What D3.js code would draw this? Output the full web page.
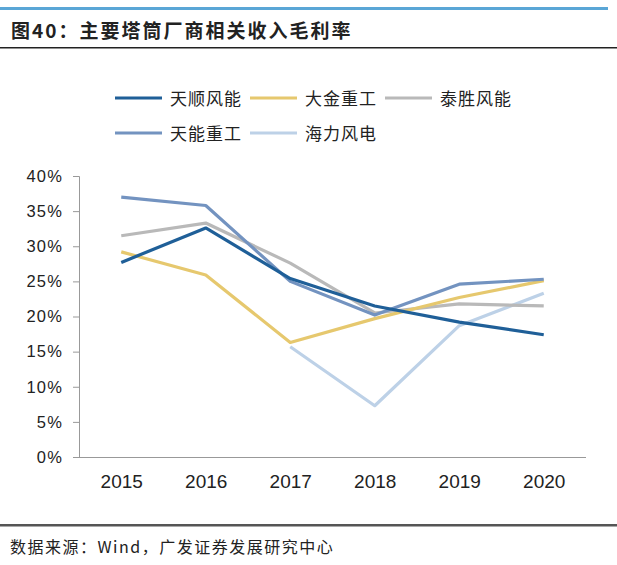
<!DOCTYPE html>
<html><head><meta charset="utf-8">
<script src="https://cdn.jsdelivr.net/npm/d3@7"></script>
<style>body{margin:0;background:#fff}svg{display:block}</style>
</head><body>
<svg id="c" width="617" height="565"></svg>
<script>
const years = ["2015","2016","2017","2018","2019","2020"];
const seriesNames = ["天顺风能","大金重工","泰胜风能","天能重工","海力风电"];
const tianshun = [27.7, 32.6, 25.4, 21.5, 19.2, 17.4];
const dajin    = [29.2, 25.9, 16.3, 19.7, 22.7, 25.1];
const taisheng = [31.5, 33.3, 27.6, 20.5, 21.8, 21.5];
const tianneng = [37.0, 35.8, 25.0, 20.2, 24.6, 25.3];
const haili    = [null, null, 15.7, 7.3, 18.7, 23.3];
const yTicks = [0,5,10,15,20,25,30,35,40];
const colors = ["#1f5f98","#e6c86e","#b9b9b9","#7393c0","#bdd1e7"];

const data = [tianshun, dajin, taisheng, tianneng, haili];
const svg = d3.select("#c");
const font = "'Liberation Sans', Arial, 'Noto Sans CJK SC', sans-serif";
const cjk = "'Noto Sans CJK SC', sans-serif";

// header decorations
svg.append("rect").attr("x",0).attr("y",7).attr("width",608).attr("height",3).attr("fill","#5aa6d6");
svg.append("text").attr("x",11).attr("y",38).attr("font-family",cjk).attr("font-weight","bold")
  .attr("font-size",19).attr("letter-spacing",2).attr("fill","#222").text("图40：主要塔筒厂商相关收入毛利率");
svg.append("rect").attr("x",0).attr("y",47).attr("width",617).attr("height",1.5).attr("fill","#222");
svg.append("rect").attr("x",0).attr("y",524).attr("width",617).attr("height",2.5).attr("fill","#555");
svg.append("text").attr("x",10).attr("y",553).attr("font-family",cjk)
  .attr("font-size",16).attr("letter-spacing",1.5).attr("fill","#222").text("数据来源：Wind，广发证券发展研究中心");

const x = d3.scalePoint().domain(years).range([79,586]).padding(0.5);
const y = d3.scaleLinear().domain([0,40]).range([457,176]);

// y axis
const ya = svg.append("g").attr("transform","translate(79,0)")
  .call(d3.axisLeft(y).tickValues(yTicks).tickFormat(d=>d+"%").tickSize(6).tickPadding(10));
ya.selectAll("path,line").attr("stroke","#999");
ya.selectAll("text").attr("font-family",font).attr("font-size",16.5).attr("letter-spacing",1.2).attr("fill","#222");

// x axis
const xa = svg.append("g").attr("transform","translate(0,457)")
  .call(d3.axisBottom(x).tickSize(0).tickPadding(17.5));
xa.select("path").attr("d","M79,0.5H586").attr("stroke","#999");
xa.selectAll("text").attr("font-family",font).attr("font-size",19).attr("fill","#222");

// lines
const line = d3.line().defined(d=>d.v!=null).x(d=>x(d.k)).y(d=>y(d.v));
const order = [4,2,1,3,0];
order.forEach(i=>{
  svg.append("path")
    .datum(years.map((k,j)=>({k, v:data[i][j]})))
    .attr("d",line).attr("fill","none").attr("stroke",colors[i])
    .attr("stroke-width",3.2).attr("stroke-linejoin","round");
});

// legend
const legPos = [[115,98],[250,98],[385,98],[115,133],[250,133]];
seriesNames.forEach((n,i)=>{
  const [lx,ly] = legPos[i];
  svg.append("line").attr("x1",lx).attr("x2",lx+47).attr("y1",ly).attr("y2",ly)
    .attr("stroke",colors[i]).attr("stroke-width",3.2);
  svg.append("text").attr("x",lx+55).attr("y",ly+6.5).attr("font-family",cjk)
    .attr("font-size",17).attr("letter-spacing",1).attr("fill","#222").text(n);
});
</script>
</body></html>
